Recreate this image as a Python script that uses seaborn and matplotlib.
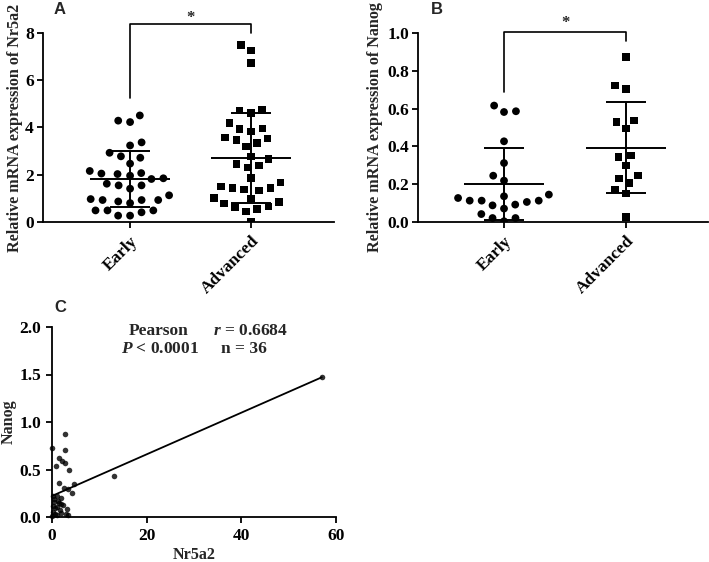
import numpy as np
import pandas as pd
import matplotlib
matplotlib.use("Agg")
import matplotlib.pyplot as plt
import seaborn as sns

# ---------------- data ----------------
groups = ["Early", "Advanced"]

nr5a2_early = [4.51, 4.23, 4.29, 3.37, 3.24, 2.78, 2.72, 2.93, 2.47, 2.07, 2.03,
               1.96, 2.05, 2.16, 1.82, 1.85, 1.55, 1.41, 1.55, 1.62, 0.97, 0.93,
               0.87, 0.80, 0.93, 0.93, 1.13, 0.49, 0.41, 0.27, 0.27, 0.49, 0.49]
nr5a2_adv = [7.50, 7.25, 6.73, 4.71, 4.61, 4.75, 3.95, 3.84, 3.94, 4.19, 3.53,
             3.34, 3.20, 3.48, 3.58, 2.78, 2.67, 2.45, 2.31, 2.40, 1.86, 1.68,
             1.51, 1.44, 1.34, 1.44, 1.37, 1.02, 1.00, 0.78, 0.63, 0.55, 0.45,
             0.66, 0.85, 0.03]
nr5a2_mean = [1.82, 2.72]
nr5a2_sd = [1.20, 1.91]

nanog_early = [0.616, 0.582, 0.586, 0.427, 0.312, 0.245, 0.219, 0.127, 0.113,
               0.106, 0.136, 0.145, 0.092, 0.113, 0.113, 0.088, 0.071, 0.042,
               0.021, 0.004, 0.021]
nanog_adv = [0.873, 0.721, 0.704, 0.538, 0.529, 0.494, 0.344, 0.351, 0.298,
             0.229, 0.247, 0.206, 0.171, 0.150, 0.026]
nanog_mean = [0.201, 0.393]
nanog_sd = [0.192, 0.242]

corr_nr5a2 = [57.0, 13.2, 0.0, 2.8, 2.7, 1.5, 2.2, 2.8, 0.9, 3.5, 1.4, 4.7,
              2.5, 3.3, 4.2, 0.3, 1.1, 1.8, 0.5, 1.4, 2.0, 0.3, 1.0, 0.7,
              1.6, 3.2, 0.2, 1.9, 3.4, 1.0, 0.1, 0.6, 2.4, 1.2, 0.4, 3.0]
corr_nanog = [1.47, 0.43, 0.73, 0.87, 0.71, 0.62, 0.59, 0.57, 0.54, 0.50, 0.36,
              0.35, 0.31, 0.29, 0.25, 0.22, 0.22, 0.20, 0.16, 0.15, 0.14, 0.12,
              0.11, 0.09, 0.07, 0.08, 0.05, 0.04, 0.02, 0.02, 0.01, 0.03, 0.13,
              0.17, 0.19, 0.03]

a_yticks = [0, 2, 4, 6, 8]
b_yticks = [0.0, 0.2, 0.4, 0.6, 0.8, 1.0]
c_xticks = [0, 20, 40, 60]
c_yticks = [0.0, 0.5, 1.0, 1.5, 2.0]

# ---------------- style ----------------
sns.set_style("ticks")
plt.rcParams["font.family"] = ["Liberation Serif", "DejaVu Serif"]
plt.rcParams["font.weight"] = "bold"
plt.rcParams["axes.labelweight"] = "bold"
plt.rcParams["mathtext.fontset"] = "custom"
plt.rcParams["mathtext.it"] = "Liberation Serif:italic:bold"
plt.rcParams["mathtext.rm"] = "Liberation Serif:bold"
plt.rcParams["axes.linewidth"] = 1.3
plt.rcParams["xtick.major.width"] = 1.3
plt.rcParams["ytick.major.width"] = 1.3
plt.rcParams["xtick.major.size"] = 4
plt.rcParams["ytick.major.size"] = 4
plt.rcParams["xtick.color"] = "black"
plt.rcParams["ytick.color"] = "black"
plt.rcParams["axes.edgecolor"] = "black"

W, H = 709, 562
fig = plt.figure(figsize=(W / 100, H / 100), dpi=100)


def px_axes(l, r, t, b):
    return fig.add_axes([l / W, 1 - b / H, (r - l) / W, (b - t) / H])


FS = 12.5
LFS = 11.6


def dot_panel(ax, early, adv, means, sds, yticks, ylabel, xlim, fmt, lpad):
    # the invisible edge widens the swarm spacing without enlarging markers
    sns.swarmplot(x=["Early"] * len(early), y=early, order=groups, marker="o",
                  color="black", size=5.6, linewidth=2.6, edgecolor="none", ax=ax)
    sns.swarmplot(x=["Advanced"] * len(adv), y=adv, order=groups, marker="s",
                  color="black", size=5.4, linewidth=2.6, edgecolor="none", ax=ax)
    for i, (m, s) in enumerate(zip(means, sds)):
        ax.hlines(m, i - 0.33, i + 0.33, color="black", lw=1.4, zorder=3)
        ax.vlines(i, m - s, m + s, color="black", lw=1.4, zorder=3)
        ax.hlines([m - s, m + s], i - 0.165, i + 0.165, color="black", lw=1.4, zorder=3)
    ax.set_xlim(*xlim)
    ax.set_ylim(yticks[0], yticks[-1])
    ax.set_yticks(yticks)
    ax.set_yticklabels([fmt.format(v) for v in yticks], fontsize=FS, fontweight="bold")
    ax.set_xticks([0, 1])
    ax.set_xticklabels(groups, rotation=45, ha="right", rotation_mode="anchor",
                       fontsize=FS, fontweight="bold")
    ax.set_ylabel(ylabel, fontsize=LFS, fontweight="bold", labelpad=lpad)
    ax.yaxis.set_label_coords(ax.yaxis.label.get_position()[0], 0.46) if False else None
    ax.set_xlabel("")
    sns.despine(ax=ax)
    ax.tick_params(axis="y", pad=2.5)
    ax.tick_params(axis="x", pad=4)


# ---------------- Panel A ----------------
axA = px_axes(43, 334, 33, 222)
dot_panel(axA, nr5a2_early, nr5a2_adv, nr5a2_mean, nr5a2_sd, a_yticks,
          "Relative mRNA expression of Nr5a2", (-0.72, 1.686), "{:.0f}", 1.5)
axA.plot([0, 0, 1, 1], [5.25, 8.38, 8.38, 8.0], color="black", lw=1.2, clip_on=False)
axA.text(0.5, 8.62, "*", ha="center", va="center", fontsize=12, fontweight="bold")
fig.text(60 / W, 1 - 9 / H, "A", family="Liberation Sans", fontweight="bold",
         fontsize=12, ha="center", va="center")

# ---------------- Panel B ----------------
axB = px_axes(418, 708, 33, 222)
dot_panel(axB, nanog_early, nanog_adv, nanog_mean, nanog_sd, b_yticks,
          "Relative mRNA expression of Nanog", (-0.705, 1.672), "{:.1f}", 3)
axB.plot([0, 0, 1, 1], [0.69, 1.005, 1.005, 0.96], color="black", lw=1.2, clip_on=False)
axB.text(0.5, 1.055, "*", ha="center", va="center", fontsize=12, fontweight="bold")
fig.text(437 / W, 1 - 9 / H, "B", family="Liberation Sans", fontweight="bold",
         fontsize=12, ha="center", va="center")

# ---------------- Panel C ----------------
axC = px_axes(52, 336, 327, 517)
dfc = pd.DataFrame({"Nr5a2": corr_nr5a2, "Nanog": corr_nanog})
sns.regplot(data=dfc, x="Nr5a2", y="Nanog", ci=None, color="black", ax=axC,
            scatter_kws={"s": 16, "linewidths": 0, "clip_on": False},
            line_kws={"lw": 1.3})
axC.set_xlim(0, 60)
axC.set_ylim(0, 2.0)
axC.set_xticks(c_xticks)
axC.set_xticklabels([str(v) for v in c_xticks], fontsize=FS, fontweight="bold")
axC.set_yticks(c_yticks)
axC.set_yticklabels(["{:.1f}".format(v) for v in c_yticks], fontsize=FS, fontweight="bold")
axC.set_xlabel("Nr5a2", fontsize=LFS, fontweight="bold", labelpad=2)
axC.set_ylabel("Nanog", fontsize=LFS, fontweight="bold", labelpad=2)
sns.despine(ax=axC)
axC.tick_params(axis="both", pad=4)
axC.text(16.1, 1.96, "Pearson", fontsize=FS, fontweight="bold", ha="left", va="center")
axC.text(14.6, 1.77, r"$P$ < 0.0001", fontsize=FS, fontweight="bold", ha="left", va="center")
axC.text(34.0, 1.96, r"$r$ = 0.6684", fontsize=FS, fontweight="bold", ha="left", va="center")
axC.text(35.8, 1.77, "n = 36", fontsize=FS, fontweight="bold", ha="left", va="center")
fig.text(60 / W, 1 - 307 / H, "C", family="Liberation Sans", fontweight="bold",
         fontsize=12, ha="center", va="center")

fig.savefig("out.png", dpi=100)
